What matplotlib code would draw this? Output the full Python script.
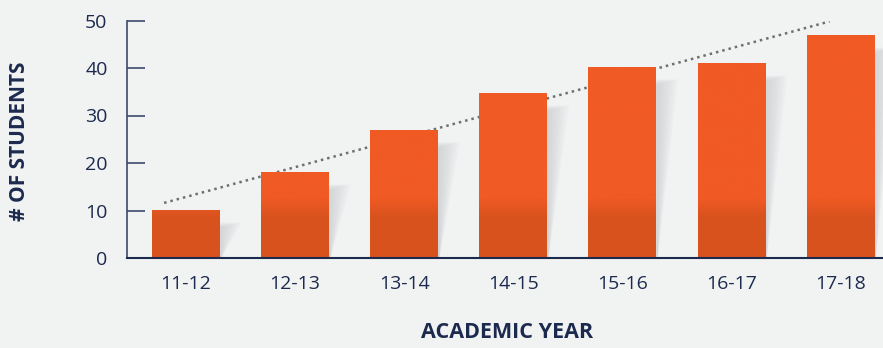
import matplotlib.pyplot as plt
import numpy as np
from matplotlib.patches import Polygon

# data
years = ['11-12', '12-13', '13-14', '14-15', '15-16', '16-17', '17-18']
students = [10.1, 18.1, 27.0, 34.7, 40.2, 41.0, 46.9]
trend_x = [-0.2, 5.9]
trend_y = [11.6, 49.8]

navy = '#1c2a4e'
bg = '#f1f2f2'
plt.rcParams['font.family'] = ['Open Sans', 'DejaVu Sans']

fig = plt.figure(figsize=(8.83, 3.48), dpi=100, facecolor=bg)
ax = fig.add_axes([127 / 883, 1 - 258 / 348, 1 - 127 / 883, (258 - 20.5) / 348])
ax.set_facecolor(bg)

x = np.arange(len(years))
w = 0.62

# dotted trend line, behind the bars
ax.plot(trend_x, trend_y, linestyle=(0, (1, 1.6)), color='#6f6f6f', lw=1.8, zorder=1)

# soft shadows to the right of each bar
for xi, v in zip(x, students):
    r = xi + w / 2
    for frac in np.linspace(1, 0.1, 8):
        top = v - 2.6 - 1.2 * (1 - frac)
        poly = Polygon([(r, 0), (r, top), (r + 0.2 * frac, top), (r + 0.015, 0)],
                       closed=True, facecolor='#b8babe', edgecolor='none',
                       alpha=0.075, zorder=1.5)
        ax.add_patch(poly)

# gradient bars
grad_top = np.array([240, 90, 36]) / 255
grad_bot = np.array([216, 82, 30]) / 255
bars = ax.bar(x, students, width=w, color='none', zorder=2)
for bar, v in zip(bars, students):
    yy = np.linspace(0, v, 200)
    t = np.clip((yy - 8.5) / 4, 0, 1)[:, None]
    img = grad_bot * (1 - t) + grad_top * t
    img = img[:, None, :]
    x0 = bar.get_x()
    im = ax.imshow(img, extent=[x0, x0 + w, 0, v], origin='lower',
                   aspect='auto', zorder=2, interpolation='bilinear')
    im.set_clip_path(bar)

ax.set_xlim(-0.54, 6.39)
ax.set_ylim(0, 50)
ax.set_xticks(x)
ax.set_xticklabels(years)
ax.set_yticks([0, 10, 20, 30, 40, 50])

for s in ['top', 'right']:
    ax.spines[s].set_visible(False)
ax.spines['left'].set_color('#3b4a6b')
ax.spines['bottom'].set_color(navy)
ax.spines['left'].set_linewidth(1.2)
ax.spines['bottom'].set_linewidth(1.5)

ax.tick_params(axis='y', direction='in', length=13, width=1.2, color='#3b4a6b',
               labelsize=14, labelcolor=navy, pad=14)
ax.tick_params(axis='x', length=0, labelsize=14, labelcolor=navy, pad=12)

fig.text(0.574, 1 - 333 / 348, 'ACADEMIC YEAR', ha='center', va='center',
         fontsize=15.5, fontweight='bold', color=navy)
fig.text(20 / 883, 1 - 141 / 348, '# OF STUDENTS', ha='center', va='center',
         rotation=90, fontsize=15, fontweight='bold', color=navy)

fig.savefig('out.png', dpi=100, facecolor=bg)
